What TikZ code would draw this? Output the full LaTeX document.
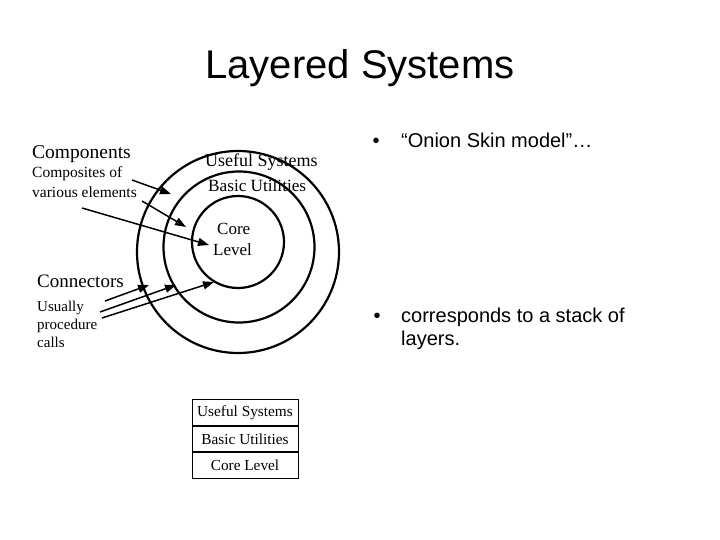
\documentclass[tikz,border=0pt]{standalone}
\usepackage{fontspec}
\setmainfont{Liberation Serif}
\newfontfamily\arial{Liberation Sans}
\usetikzlibrary{arrows.meta}
\begin{document}
\begin{tikzpicture}[x=1pt,y=-1pt,
  ring/.style={circle,draw,line width=2.2pt,inner sep=0pt},
  lbl/.style={inner sep=0pt,anchor=base west},
  big/.style={lbl,font=\fontsize{19.5}{22}\selectfont},
  small/.style={lbl,font=\fontsize{15.5}{18}\selectfont},
  ringtxt/.style={inner sep=0pt,anchor=base west,font=\fontsize{#1}{20}\selectfont},
  bul/.style={lbl,font=\arial\fontsize{20}{24}\selectfont},
  arr/.style={line width=1.5pt,-{Triangle[length=11pt,width=8pt]}},
  cell/.style={draw,line width=0.8pt,minimum width=106pt,minimum height=25.7pt,inner sep=0pt,font=\fontsize{15.3}{17}\selectfont}]
\useasboundingbox (0,0) rectangle (720,540);
% title
\node[inner sep=0pt,font=\arial\fontsize{40}{44}\selectfont] (title) at (360,68) {Layered Systems};
% rings
\node[ring,minimum size=202pt] (outer) at (238,252) {};
\node[ring,minimum size=151pt] (middle) at (239,247) {};
\node[ring,minimum size=92pt] (inner) at (238,242) {};
% ring labels
\node[ringtxt=18] (useful) at (205,167) {Useful Systems};
\node[ringtxt=17.2] (basic) at (208,192) {Basic Utilities};
\node[ringtxt=17] (core) at (217,235) {Core};
\node[ringtxt=17] (level) at (213,255) {Level};
% left labels
\node[big] (comp) at (32,159) {Components};
\node[small] (compd1) at (32,178) {Composites of};
\node[small] (compd2) at (32,197) {various elements};
\node[big,font=\fontsize{19}{22}\selectfont] (conn) at (37,287) {Connectors};
\node[small,font=\fontsize{15}{18}\selectfont] (connd1) at (37,311) {Usually};
\node[small,font=\fontsize{15}{18}\selectfont] (connd2) at (37,329) {procedure};
\node[small,font=\fontsize{15}{18}\selectfont] (connd3) at (37,347) {calls};
% component arrows
\coordinate (a1s) at (132,180); \coordinate (a1e) at (171,194);
\coordinate (a2s) at (142,201); \coordinate (a2e) at (186,227);
\coordinate (a3s) at (82,208);  \coordinate (a3e) at (209,245);
\draw[arr] (a1s) -- (a1e);
\draw[arr] (a2s) -- (a2e);
\draw[arr] (a3s) -- (a3e);
% connector arrows
\coordinate (c1s) at (105,301); \coordinate (c1e) at (149,285);
\coordinate (c2s) at (100,312); \coordinate (c2e) at (176,285);
\coordinate (c3s) at (102,318); \coordinate (c3e) at (214,282);
\draw[arr] (c1s) -- (c1e);
\draw[arr] (c2s) -- (c2e);
\draw[arr] (c3s) -- (c3e);
% bullets
\node[bul,anchor=base] (b1) at (376,148) {\textbullet};
\node[bul] (t1) at (401,148) {“Onion Skin model”…};
\node[bul,anchor=base] (b2) at (377,322) {\textbullet};
\node[bul] (t2) at (401,322) {corresponds to a stack of};
\node[bul] (t3) at (401,345) {layers.};
% stack table
\node[cell] (s1) at (245,412.5) {Useful Systems};
\node[cell,anchor=north] (s2) at (s1.south) {Basic Utilities};
\node[cell,anchor=north] (s3) at (s2.south) {Core Level};
\end{tikzpicture}
\end{document}
